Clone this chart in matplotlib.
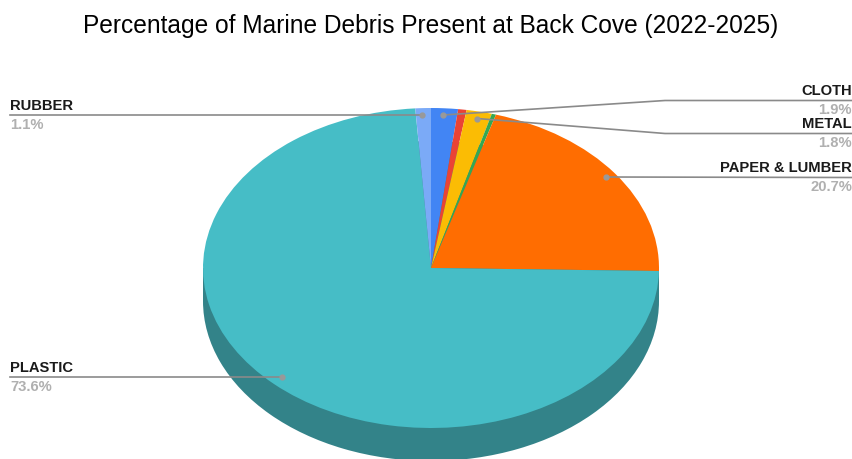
import matplotlib
matplotlib.use("Agg")
import matplotlib.pyplot as plt
from matplotlib.patches import Rectangle

plt.rcParams['font.family'] = ['Liberation Sans', 'DejaVu Sans']

W, H = 853, 459

# clockwise from 12 o'clock
categories = ["CLOTH", "other red", "METAL", "other green", "PAPER & LUMBER", "PLASTIC", "RUBBER"]
shares = [1.9, 0.6, 1.8, 0.3, 20.7, 73.6, 1.1]
colors = ["#4285f4", "#ea4335", "#fbbc04", "#34a853", "#ff6d01", "#46bdc6", "#7baaf7"]
side_color = "#338389"

title = "Percentage of Marine Debris Present at Back Cove (2022-2025)"
labels = [
    ("RUBBER", "1.1%", "left", 10, 106, [(422, 115), (10, 115)]),
    ("CLOTH", "1.9%", "right", 852, 91, [(443, 115), (665, 100.5), (852, 100.5)]),
    ("METAL", "1.8%", "right", 852, 124, [(477, 118.5), (665, 133.5), (852, 133.5)]),
    ("PAPER & LUMBER", "20.7%", "right", 852, 168, [(606, 177), (852, 177.5)]),
    ("PLASTIC", "73.6%", "left", 10, 368, [(282, 377), (10, 377)]),
]

# pie centre and radii in pixels, depth of the tilted side
cx, cy, rx, ry = 431, 268, 228, 160
depth = 33

fig = plt.figure(figsize=(W / 100, H / 100), dpi=100)
ax = fig.add_axes([0, 0, 1, 1])

# side of the disc first, then the top
ax.pie([1], colors=[side_color], radius=1, center=(0, -depth / ry), startangle=90, normalize=True)
ax.add_patch(Rectangle((-1, -depth / ry), 2, depth / ry, color=side_color, lw=0))
ax.pie(shares, colors=colors, radius=1, center=(0, 0), startangle=90, counterclock=False)

ax.set_aspect("auto")
ax.set_xlim(-cx / rx, (W - cx) / rx)
ax.set_ylim((cy - H) / ry, cy / ry)
ax.axis("off")


def fx(x):
    return x / W


def fy(y):
    return 1 - y / H


for name, pct, ha, x, y, path in labels:
    fig.text(fx(x), fy(y), name, ha=ha, va="center", fontsize=10.6, fontweight="bold", color="#1a1a1a")
    fig.text(fx(x), fy(y + 19), pct, ha=ha, va="center", fontsize=10.6, fontweight="bold", color="#b0b0b0")
    xs = [fx(p[0]) for p in path]
    ys = [fy(p[1]) for p in path]
    fig.add_artist(plt.Line2D(xs, ys, color="#8a8a8a", lw=1.2, transform=fig.transFigure))
    fig.add_artist(plt.Line2D(xs[:1], ys[:1], color="#999999", marker="o", ms=3.5, lw=0, transform=fig.transFigure))

fig.text(fx(431), fy(26), title, ha="center", va="center", fontsize=17.65, color="#000000")

fig.savefig("out.png", dpi=100)
